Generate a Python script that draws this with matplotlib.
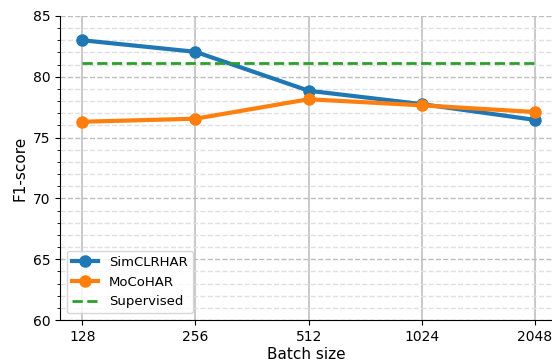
import matplotlib
matplotlib.use("Agg")
import matplotlib.pyplot as plt
from matplotlib.ticker import MultipleLocator

batch_sizes = ["128", "256", "512", "1024", "2048"]
simclr = [83.0, 82.05, 78.85, 77.75, 76.45]
moco = [76.3, 76.55, 78.15, 77.65, 77.1]
supervised = 81.15

fig = plt.figure(figsize=(5.52, 3.62), dpi=100)
ax = fig.add_axes([0.109, 0.116, 0.891, 0.84])
x = list(range(len(batch_sizes)))

ax.yaxis.set_major_locator(MultipleLocator(5))
ax.yaxis.set_minor_locator(MultipleLocator(1))
ax.grid(axis="y", which="major", linestyle="--", color="#bdbdbd", linewidth=1.0)
ax.grid(axis="y", which="minor", linestyle="--", color="#e0e0e0", linewidth=1.0)
ax.grid(axis="x", which="major", linestyle="-", color="#c0c0c0", linewidth=1.2)
ax.set_axisbelow(True)

ax.plot(x, simclr, marker="o", color="#1f77b4", linewidth=3, markersize=8, label="SimCLRHAR")
ax.plot(x, moco, marker="o", color="#ff7f0e", linewidth=3, markersize=8, label="MoCoHAR")
ax.plot([x[0], x[-1]], [supervised, supervised], linestyle="--", color="#2ca02c", linewidth=2, label="Supervised")

ax.set_xticks(x)
ax.set_xticklabels(batch_sizes)
ax.set_xlim(-0.195, 4.15)
ax.set_ylim(60, 85)
ax.set_xlabel("Batch size", fontsize=11, labelpad=2)
ax.set_ylabel("F1-score", fontsize=11)
ax.tick_params(labelsize=10)
for s in ["top", "right"]:
    ax.spines[s].set_visible(False)
ax.legend(loc="lower left", fontsize=9.5)

fig.savefig("out.png", dpi=100)
